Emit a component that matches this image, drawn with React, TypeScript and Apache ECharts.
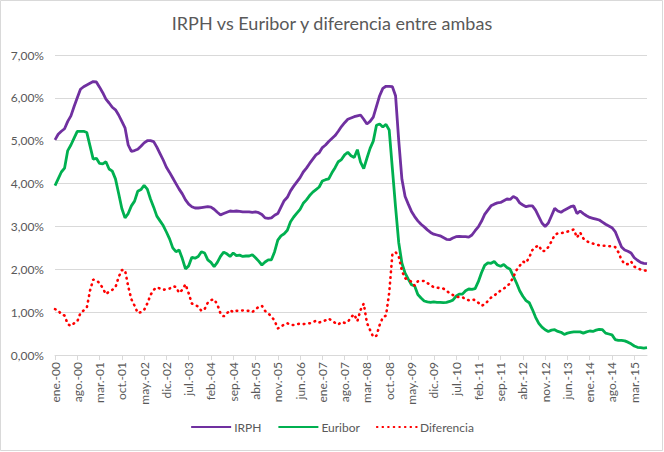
import React, { useEffect, useRef } from "react";
import * as echarts from "echarts";

const monthNames = ["ene.", "feb.", "mar.", "abr.", "may.", "jun.", "jul.", "ago.", "sep.", "oct.", "nov.", "dic."];
const startYear = 2000;
const monthCount = 187;

const irph = [
  5.02, 5.15, 5.22, 5.28, 5.45, 5.58, 5.80, 6.00, 6.20, 6.26, 6.30, 6.34,
  6.38, 6.37, 6.25, 6.12, 5.97, 5.88, 5.78, 5.72, 5.60, 5.45, 5.30, 4.90,
  4.75, 4.77, 4.80, 4.87, 4.95, 5.00, 5.00, 4.98, 4.85, 4.70, 4.55, 4.38,
  4.26, 4.13, 4.00, 3.87, 3.76, 3.62, 3.52, 3.46, 3.43, 3.43, 3.44, 3.45,
  3.46, 3.45, 3.40, 3.33, 3.27, 3.30, 3.33, 3.36, 3.35, 3.36, 3.35, 3.34,
  3.34, 3.34, 3.33, 3.34, 3.32, 3.28, 3.20, 3.19, 3.20, 3.26, 3.30, 3.45,
  3.60, 3.68, 3.83, 3.94, 4.04, 4.14, 4.27, 4.36, 4.47, 4.57, 4.67, 4.72,
  4.84, 4.90, 4.98, 5.05, 5.12, 5.22, 5.33, 5.42, 5.50, 5.53, 5.56, 5.58,
  5.60, 5.50, 5.39, 5.45, 5.55, 5.80, 6.05, 6.22, 6.27, 6.27, 6.26, 6.05,
  5.00, 4.10, 3.70, 3.52, 3.35, 3.23, 3.13, 3.05, 2.99, 2.92, 2.86, 2.82,
  2.80, 2.78, 2.74, 2.70, 2.69, 2.73, 2.76, 2.77, 2.76, 2.76, 2.75, 2.80,
  2.90, 2.99, 3.12, 3.28, 3.38, 3.48, 3.52, 3.55, 3.56, 3.60, 3.64, 3.63,
  3.70, 3.66, 3.55, 3.50, 3.46, 3.48, 3.48, 3.38, 3.23, 3.08, 3.00, 3.08,
  3.25, 3.42, 3.36, 3.33, 3.38, 3.42, 3.46, 3.48, 3.30, 3.36, 3.30, 3.25,
  3.21, 3.19, 3.17, 3.15, 3.10, 3.05, 3.01, 2.97, 2.88, 2.70, 2.52, 2.45,
  2.42, 2.38, 2.27, 2.21, 2.16, 2.14, 2.13,
];

const euribor = [
  3.95, 4.11, 4.27, 4.36, 4.77, 4.90, 5.06, 5.22, 5.22, 5.22, 5.19, 4.88,
  4.57, 4.59, 4.47, 4.46, 4.51, 4.34, 4.29, 4.11, 3.77, 3.42, 3.20, 3.30,
  3.48, 3.59, 3.82, 3.86, 3.96, 3.87, 3.64, 3.45, 3.24, 3.13, 3.02, 2.87,
  2.71, 2.50, 2.41, 2.45, 2.25, 2.01, 2.08, 2.28, 2.26, 2.30, 2.41, 2.38,
  2.22, 2.16, 2.06, 2.16, 2.30, 2.40, 2.36, 2.30, 2.38, 2.32, 2.33, 2.30,
  2.31, 2.31, 2.34, 2.27, 2.19, 2.10, 2.17, 2.22, 2.22, 2.41, 2.68, 2.78,
  2.83, 2.91, 3.11, 3.22, 3.31, 3.40, 3.54, 3.62, 3.72, 3.80, 3.86, 3.92,
  4.06, 4.09, 4.11, 4.25, 4.37, 4.51, 4.56, 4.67, 4.73, 4.65, 4.61, 4.79,
  4.50, 4.35, 4.59, 4.82, 4.99, 5.36, 5.39, 5.32, 5.38, 5.25, 4.35, 3.45,
  2.62, 2.14, 1.91, 1.77, 1.64, 1.61, 1.41, 1.33, 1.26, 1.24, 1.23, 1.24,
  1.23, 1.23, 1.22, 1.23, 1.25, 1.28, 1.37, 1.42, 1.42, 1.50, 1.54, 1.53,
  1.55, 1.71, 1.92, 2.09, 2.15, 2.14, 2.18, 2.10, 2.07, 2.11, 2.04, 2.00,
  1.84, 1.68, 1.50, 1.37, 1.27, 1.22, 1.06, 0.88, 0.74, 0.65, 0.59, 0.55,
  0.58, 0.59, 0.55, 0.53, 0.48, 0.51, 0.53, 0.54, 0.54, 0.54, 0.51, 0.54,
  0.56, 0.55, 0.58, 0.60, 0.59, 0.51, 0.49, 0.47, 0.36, 0.34, 0.34, 0.33,
  0.30, 0.26, 0.21, 0.18, 0.17, 0.16, 0.17,
];

const diferencia = [
  1.07, 1.04, 0.95, 0.92, 0.72, 0.68, 0.74, 0.78, 0.98, 1.04, 1.11, 1.50,
  1.76, 1.74, 1.68, 1.56, 1.42, 1.48, 1.52, 1.58, 1.82, 1.98, 1.98, 1.60,
  1.30, 1.15, 0.98, 1.00, 1.05, 1.20, 1.40, 1.52, 1.58, 1.55, 1.52, 1.54,
  1.55, 1.60, 1.59, 1.45, 1.52, 1.65, 1.44, 1.20, 1.17, 1.13, 1.03, 1.07,
  1.22, 1.28, 1.30, 1.18, 0.97, 0.90, 0.97, 1.05, 1.00, 1.03, 1.03, 1.04,
  1.03, 1.03, 1.00, 1.07, 1.12, 1.15, 1.03, 0.97, 0.90, 0.80, 0.62, 0.65,
  0.72, 0.74, 0.70, 0.70, 0.72, 0.73, 0.72, 0.73, 0.74, 0.76, 0.80, 0.76,
  0.78, 0.81, 0.85, 0.80, 0.75, 0.71, 0.77, 0.75, 0.77, 0.88, 0.95, 0.79,
  1.05, 1.20, 0.75, 0.58, 0.42, 0.45, 0.70, 0.88, 0.92, 1.45, 2.35, 2.40,
  2.30, 1.96, 1.79, 1.75, 1.71, 1.62, 1.72, 1.72, 1.73, 1.68, 1.63, 1.58,
  1.57, 1.56, 1.55, 1.50, 1.44, 1.40, 1.36, 1.35, 1.35, 1.30, 1.28, 1.30,
  1.28, 1.22, 1.15, 1.18, 1.26, 1.34, 1.38, 1.46, 1.50, 1.55, 1.60, 1.68,
  1.82, 1.98, 2.08, 2.18, 2.15, 2.28, 2.45, 2.52, 2.56, 2.42, 2.43, 2.52,
  2.65, 2.80, 2.84, 2.84, 2.86, 2.88, 2.90, 2.93, 2.74, 2.86, 2.72, 2.66,
  2.62, 2.60, 2.58, 2.56, 2.55, 2.55, 2.54, 2.53, 2.52, 2.40, 2.22, 2.12,
  2.12, 2.18, 2.06, 2.03, 1.99, 1.98, 1.96,
];

const categories: string[] = [];
for (let i = 0; i < monthCount; i++) {
  const y = startYear + Math.floor(i / 12);
  categories.push(monthNames[i % 12] + "-" + String(y % 100).padStart(2, "0"));
}

const FONT = "Lato, 'Open Sans', sans-serif";
const TEXT = "#595959";
const GRID = "#D9D9D9";

export default function App() {
  const ref = useRef<HTMLDivElement>(null);
  useEffect(() => {
    if (!ref.current) return;
    const chart = echarts.init(ref.current, null, { renderer: "svg" });
    chart.setOption({
      animation: false,
      backgroundColor: "#ffffff",
      textStyle: { fontFamily: FONT },
      title: {
        text: "IRPH vs Euribor y diferencia entre ambas",
        left: "center",
        top: 9,
        textStyle: { fontFamily: FONT, fontSize: 18, fontWeight: "normal", color: TEXT },
      },
      graphic: [
        {
          type: "rect",
          shape: { x: 0.5, y: 0.5, width: 662, height: 450 },
          style: { fill: "none", stroke: GRID, lineWidth: 1 },
          silent: true,
        },
      ],
      legend: {
        bottom: 14,
        left: "center",
        itemWidth: 40,
        itemHeight: 10,
        itemGap: 16,
        itemStyle: { opacity: 0, borderWidth: 0 },
        textStyle: { fontFamily: FONT, fontSize: 12, color: TEXT, padding: [0, 0, 0, -2] },
        data: ["IRPH", "Euribor", "Diferencia"],
      },
      grid: { left: 55, right: 17, top: 55, bottom: 97, containLabel: false },
      xAxis: {
        type: "category",
        data: categories,
        boundaryGap: false,
        axisLine: { show: true, lineStyle: { color: GRID, width: 1 } },
        axisTick: { show: true, interval: 6, length: 5, lineStyle: { color: GRID } },
        axisLabel: {
          interval: 6,
          rotate: 90,
          margin: 7,
          fontFamily: FONT,
          fontSize: 12,
          color: TEXT,
        },
        splitLine: { show: false },
      },
      yAxis: {
        type: "value",
        min: 0,
        max: 7,
        interval: 1,
        axisLine: { show: false },
        axisTick: { show: false },
        axisLabel: {
          margin: 11,
          fontFamily: FONT,
          fontSize: 12,
          color: TEXT,
          formatter: (v: number) => v.toFixed(2).replace(".", ",") + "%",
        },
        splitLine: { show: true, lineStyle: { color: GRID, width: 1 } },
      },
      series: [
        {
          name: "IRPH",
          type: "line",
          data: irph,
          symbol: "none",
          lineStyle: { color: "#7030A0", width: 2.8 },
          itemStyle: { color: "#7030A0" },
        },
        {
          name: "Euribor",
          type: "line",
          data: euribor,
          symbol: "none",
          lineStyle: { color: "#00B050", width: 2.8 },
          itemStyle: { color: "#00B050" },
        },
        {
          name: "Diferencia",
          type: "line",
          data: diferencia,
          symbol: "none",
          lineStyle: { color: "#FF0000", width: 2.6, type: [0.6, 5], cap: "round" },
          itemStyle: { color: "#FF0000" },
        },
      ],
    });
    return () => chart.dispose();
  }, []);
  return (
    <div
      ref={ref}
      style={{ position: "fixed", left: 0, top: 0, width: 664, height: 452 }}
    />
  );
}
